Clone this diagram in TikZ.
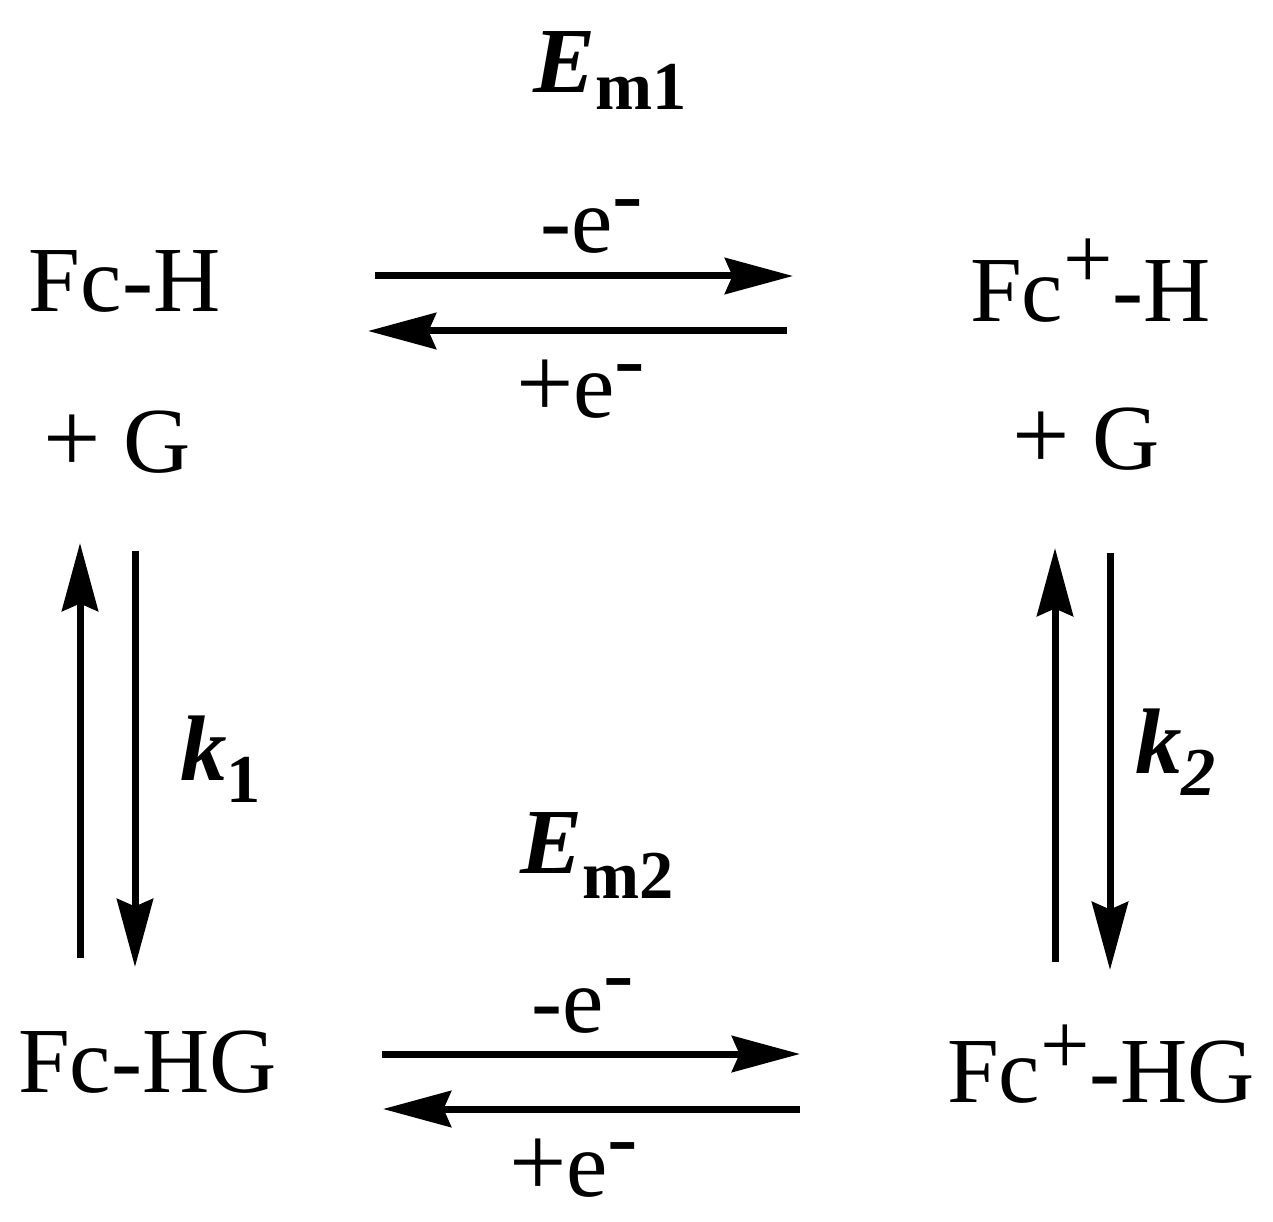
\documentclass[tikz,border=0pt]{standalone}
\usepackage{fontspec}
\setmainfont{Liberation Serif}
\usetikzlibrary{arrows.meta}
\tikzset{
  lbl/.style={inner sep=0pt, outer sep=0pt, anchor=base west, font=\fontsize{53}{60}\selectfont},
  rxn/.style={line width=0.14cm, -{Stealth[length=1.36cm,width=0.72cm,inset=0.15cm]}}
}
\newcommand{\supplus}[1]{\raisebox{#1}{\fontsize{50}{50}\selectfont +}}
\newcommand{\elec}{\raisebox{0.58cm}{\fontsize{52}{50}\selectfont -}}
\newcommand{\subsc}[2]{\raisebox{#1}{\fontsize{39}{40}\selectfont\bfseries #2}}
\newcommand{\bigplus}{{\fontsize{58}{60}\selectfont +}}
\begin{document}
\begin{tikzpicture}[x=0.02cm,y=-0.02cm]
\useasboundingbox (0,0) rectangle (1273,1222);
% species
\node[lbl] (fch) at (29,312) {Fc-H};
\node[lbl] (g1) at (43,473) {\bigplus\ G};
\node[lbl] (fcph) at (970,322) {Fc\supplus{0.68cm}-H};
\node[lbl] (g2) at (1012,470) {\bigplus\ G};
\node[lbl] (fchg) at (18,1092) {Fc-HG};
\node[lbl] (fcphg) at (947,1102) {Fc\supplus{0.56cm}-HG};
% electron labels
\node[lbl] (ox1) at (540,253) {-e\elec};
\node[lbl] (red1) at (516,418) {\bigplus e\elec};
\node[lbl] (ox2) at (531,1032) {-e\elec};
\node[lbl] (red2) at (509,1196) {\bigplus e\elec};
% potentials and rate constants
\node[lbl] (em1) at (533,93) {{\bfseries\itshape E}\subsc{-0.34cm}{m1}};
\node[lbl] (em2) at (520,873) {{\bfseries\itshape E}\subsc{-0.5cm}{m2}};
\node[lbl] (k1) at (180,780) {{\bfseries\itshape k}\subsc{-0.44cm}{1}};
\node[lbl] (k2) at (1135,773) {{\bfseries\itshape k}\subsc{-0.44cm}{\itshape 2}};
% arrow end points
\coordinate (t1a) at (375,276); \coordinate (t1b) at (793,276);
\coordinate (t2a) at (787,331); \coordinate (t2b) at (368,331);
\coordinate (b1a) at (382,1054); \coordinate (b1b) at (800,1054);
\coordinate (b2a) at (800,1109); \coordinate (b2b) at (383,1109);
\coordinate (l1a) at (80,958); \coordinate (l1b) at (80,543);
\coordinate (l2a) at (135,551); \coordinate (l2b) at (135,967);
\coordinate (r1a) at (1055,962); \coordinate (r1b) at (1055,548);
\coordinate (r2a) at (1110,553); \coordinate (r2b) at (1110,970);
\draw[rxn] (t1a) -- (t1b);
\draw[rxn] (t2a) -- (t2b);
\draw[rxn] (b1a) -- (b1b);
\draw[rxn] (b2a) -- (b2b);
\draw[rxn] (l1a) -- (l1b);
\draw[rxn] (l2a) -- (l2b);
\draw[rxn] (r1a) -- (r1b);
\draw[rxn] (r2a) -- (r2b);
\end{tikzpicture}
\end{document}
